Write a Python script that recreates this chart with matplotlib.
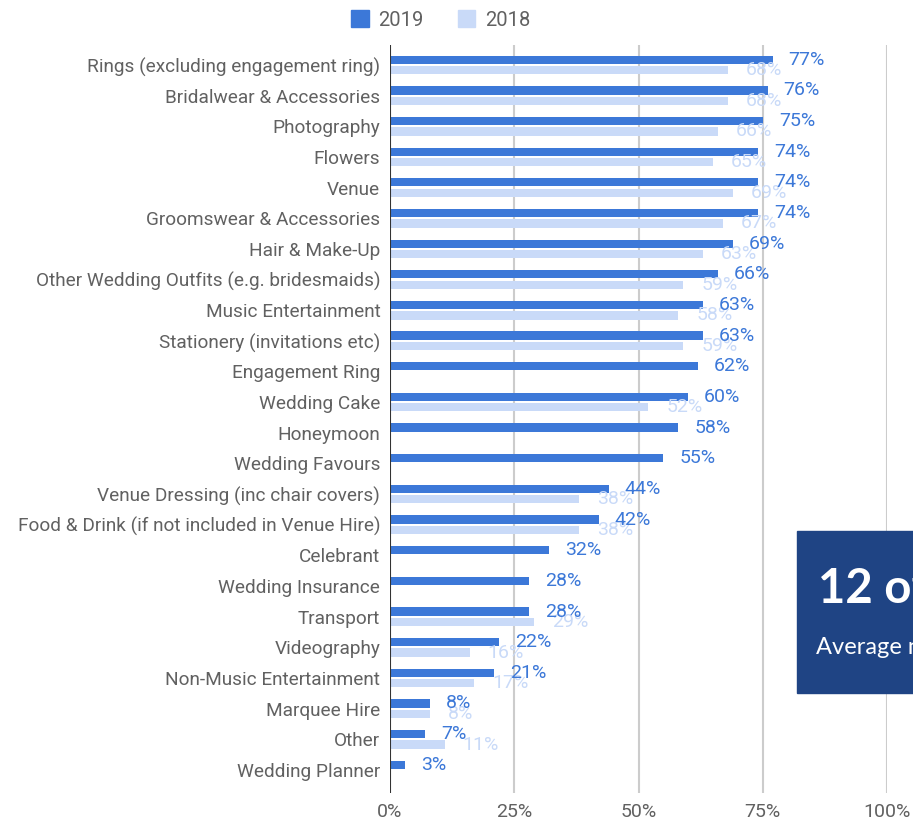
import matplotlib.pyplot as plt
from matplotlib.patches import Rectangle

categories = [
    "Rings (excluding engagement ring)", "Bridalwear & Accessories", "Photography",
    "Flowers", "Venue", "Groomswear & Accessories", "Hair & Make-Up",
    "Other Wedding Outfits (e.g. bridesmaids)", "Music Entertainment",
    "Stationery (invitations etc)", "Engagement Ring", "Wedding Cake", "Honeymoon",
    "Wedding Favours", "Venue Dressing (inc chair covers)",
    "Food & Drink (if not included in Venue Hire)", "Celebrant", "Wedding Insurance",
    "Transport", "Videography", "Non-Music Entertainment", "Marquee Hire", "Other",
    "Wedding Planner",
]
pct_2019 = [77, 76, 75, 74, 74, 74, 69, 66, 63, 63, 62, 60, 58, 55, 44, 42, 32, 28,
            28, 22, 21, 8, 7, 3]
# None where there was no 2018 figure
pct_2018 = [68, 68, 66, 65, 69, 67, 63, 59, 58, 59, None, 52, None, None, 38, 38,
            None, None, 29, 16, 17, 8, 11, None]

c2019 = "#3c78d8"
c2018 = "#c9daf8"
grey = "#616161"

plt.rcParams["font.family"] = ["Roboto", "DejaVu Sans"]

fig = plt.figure(figsize=(9.13, 8.21), dpi=100)
ax = fig.add_axes([390 / 913, 28 / 821, 497 / 913, 748 / 821])

bh = 0.27
off = 0.17
for i, (v19, v18) in enumerate(zip(pct_2019, pct_2018)):
    ax.barh(i - off, v19, height=bh, color=c2019, zorder=3)
    ax.annotate(f"{v19}%", (v19, i - off), xytext=(16, 0), textcoords="offset pixels",
                ha="left", va="center", color=c2019, fontsize=14, zorder=5)
    if v18 is not None:
        ax.barh(i + off, v18, height=bh, color=c2018, zorder=3)
        ax.annotate(f"{v18}%", (v18, i + off), xytext=(18, 0),
                    textcoords="offset pixels", ha="left", va="center",
                    color=c2018, fontsize=14, zorder=4)

ax.set_xlim(0, 100)
ax.set_ylim(len(categories) - 0.25, -0.65)
ax.set_yticks(range(len(categories)))
ax.set_yticklabels(categories, fontsize=13.7, color=grey)
ax.set_xticks([0, 25, 50, 75, 100])
ax.set_xticklabels(["0%", "25%", "50%", "75%", "100%"], fontsize=14, color=grey)
ax.tick_params(axis="both", length=0)
ax.tick_params(axis="y", pad=7)
ax.tick_params(axis="x", pad=7)
for x in [25, 50, 75, 100]:
    ax.axvline(x, color="#cccccc", lw=1.5, zorder=1)
ax.axvline(0, color="#333333", lw=1.5, zorder=4)
for s in ax.spines.values():
    s.set_visible(False)

# legend along the top
h19 = Rectangle((0, 0), 1, 1, color=c2019)
h18 = Rectangle((0, 0), 1, 1, color=c2018)
fig.legend([h19, h18], ["2019", "2018"], loc="center", bbox_to_anchor=(441 / 913, 1 - 20 / 821),
           ncol=2, frameon=False, fontsize=14.5, labelcolor=grey, handlelength=0.85,
           handleheight=0.85, handletextpad=0.5, columnspacing=1.7)

# dark info panel running off the right edge
fig.patches.append(Rectangle((797 / 913, 1 - 693 / 821), 0.2, 162 / 821,
                             transform=fig.transFigure, color="#1f4484", zorder=10))
fig.text(818 / 913, 1 - 589 / 821, "12 of 25", color="white", fontsize=34,
         fontweight="bold", family="Lato", va="center", ha="left", zorder=11)
fig.text(816 / 913, 1 - 647 / 821, "Average number of suppliers", color="white",
         fontsize=17, family="Lato", va="center", ha="left", zorder=11)

fig.savefig("out.png", dpi=100)
